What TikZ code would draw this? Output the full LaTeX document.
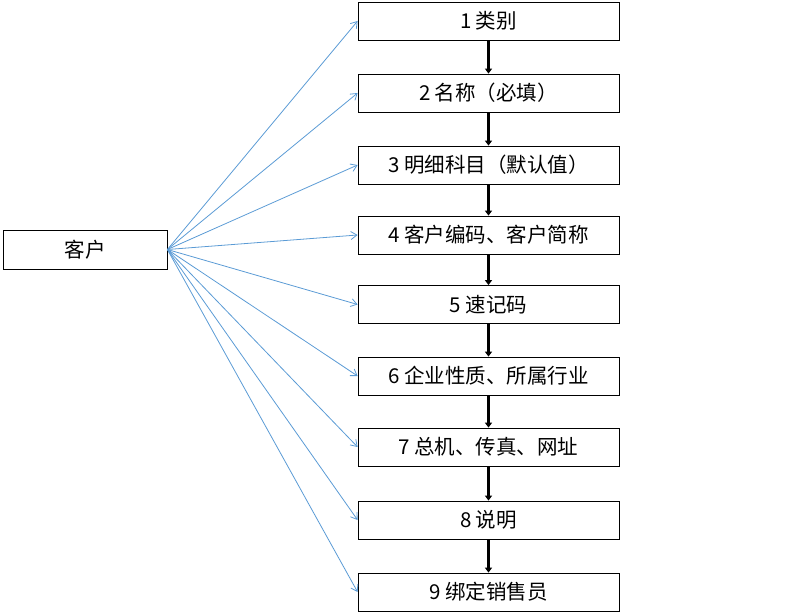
\documentclass[tikz,border=0pt]{standalone}
\usepackage{fontspec}
\setmainfont{Noto Sans CJK SC}
\usetikzlibrary{arrows.meta}
\begin{document}
\begin{tikzpicture}[x=1pt,y=-1pt,
  box/.style={draw,thick,minimum width=261pt,minimum height=38pt,inner sep=0pt,font=\fontsize{20.5}{22}\selectfont},
  lbox/.style={draw,thick,minimum width=164pt,minimum height=39pt,inner sep=0pt,font=\fontsize{20.5}{22}\selectfont},
  blue/.style={draw={rgb,255:red,91;green,155;blue,213},line width=0.8pt,-{Straight Barb[length=6pt,width=8pt]}},
  blk/.style={draw=black,line width=2.5pt,-{Triangle[length=5pt,width=7pt]}}]
\useasboundingbox (0,0) rectangle (789,612);
\node[lbox] (k) at (85,249.5) {客户};
\node[box] (b1) at (488.5,21) {1 类别};
\node[box] (b2) at (488.5,93) {2 名称（必填）};
\node[box] (b3) at (488.5,165) {3 明细科目（默认值）};
\node[box] (b4) at (488.5,235) {4 客户编码、客户简称};
\node[box] (b5) at (488.5,304.5) {5 速记码};
\node[box] (b6) at (488.5,376) {6 企业性质、所属行业};
\node[box] (b7) at (488.5,447) {7 总机、传真、网址};
\node[box] (b8) at (488.5,520) {8 说明};
\node[box] (b9) at (488.5,592) {9 绑定销售员};
\foreach \i in {1,...,9}{\draw[blue] (k.east) -- (b\i.west);}
\foreach \i/\j in {1/2,2/3,3/4,4/5,5/6,6/7,7/8,8/9}{\draw[blk] (b\i.south) -- (b\j.north);}
\end{tikzpicture}
\end{document}
